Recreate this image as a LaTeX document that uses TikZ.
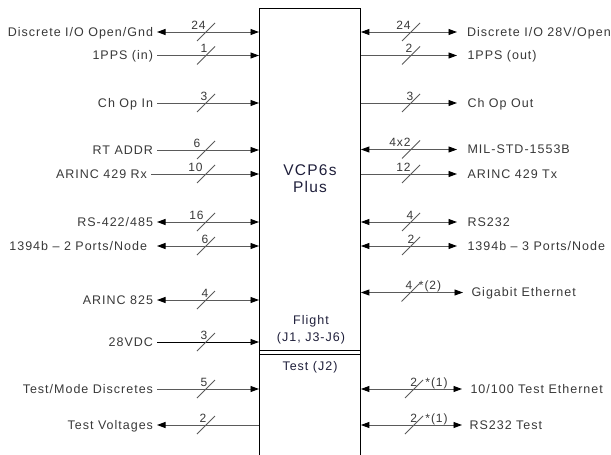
\documentclass[tikz,border=0pt]{standalone}
\usepackage{fontspec}
\setmainfont{Liberation Sans}[LetterSpace=8]
\usetikzlibrary{arrows.meta,calc}
\definecolor{txt}{HTML}{383838}
\definecolor{ln}{HTML}{5A5A5A}
\definecolor{boxtxt}{HTML}{1E1E3A}
\newcommand\InRow[8]{%
  \node[lbl,anchor=east,#8] (L#1) at (#2,#3) {#4};
  \draw[conn,#5] (L#1.east) -- (L#1.east -| box.west);
  \draw[slashln] (206-9,#3+9) -- (206+9,#3-9);
  \node[num] (NL#1) at (#7,#3-7) {#6};
}
\newcommand\OutRow[9]{%
  \node[lbl,anchor=west,inner xsep=#9] (R#1) at (#2,#3) {#4};
  \draw[conn,#5] (R#1.west -| box.east) -- (R#1.west);
  \draw[slashln] (#8-9,#3+9) -- (#8+9,#3-9);
  \node[num] (NR#1) at (#7,#3-7) {#6};
}
\begin{document}
\begin{tikzpicture}[x=1pt,y=-1pt,
  >={Triangle[length=8.5pt,width=6pt,color=black]},
  lbl/.style={text=txt,font=\fontsize{12.5}{14}\selectfont,inner xsep=4pt,inner ysep=0pt,outer sep=0pt,text height=8.6pt,text depth=0pt},
  num/.style={text=txt,font=\fontsize{12}{13}\selectfont,inner sep=0pt,text height=8.3pt,text depth=0pt},
  conn/.style={draw=ln,line width=0.9pt},
  slashln/.style={draw=ln,line width=0.8pt},
  boxln/.style={draw=black,line width=0.9pt},
  boxtext/.style={text=boxtxt,inner sep=0pt,text depth=0pt}]
\useasboundingbox (0,0) rectangle (611,455);
\clip (0,0) rectangle (611,455);
\node[boxln,anchor=north west,minimum width=101pt,minimum height=470pt,inner sep=0pt] (box) at (259,8) {};
% box texts
\node[boxtext,font=\fontsize{15.5}{18}\selectfont,text height=10.7pt] (t1) at (310,170) {VCP6s};
\node[boxtext,font=\fontsize{15.5}{18}\selectfont,text height=10.7pt] (t2) at (310,187.6) {Plus};
\node[boxtext,font=\fontsize{12.5}{14}\selectfont,text height=8.6pt] (t3) at (311,320.5) {Flight};
\node[boxtext,font=\fontsize{12.5}{14}\selectfont,text height=8.6pt] (t4) at (311,337.5) {(J1, J3-J6)};
\node[boxtext,font=\fontsize{12.5}{14}\selectfont,text height=8.6pt] (t5) at (310,366) {Test (J2)};
\coordinate (d1) at (0,350.7);
\coordinate (d2) at (0,354);
\draw[boxln] (box.west |- d1) -- (box.east |- d1);
\draw[boxln] (box.west |- d2) -- (box.east |- d2);
% left rows
\InRow{1}{157}{32}{Discrete I/O Open/Gnd}{<->}{24}{198.5}{}
\InRow{2}{157}{55.5}{1PPS (in)}{->}{1}{204}{}
\InRow{3}{157}{103}{Ch Op In}{->}{3}{204}{}
\InRow{4}{157}{150}{RT ADDR}{->}{6}{197}{}
\InRow{5}{151}{174}{ARINC 429 Rx}{->}{10}{195.5}{}
\InRow{6}{157}{222}{RS-422/485}{<->}{16}{196.5}{}
\InRow{7}{157}{246}{1394b – 2 Ports/Node}{<->}{6}{205}{inner xsep=10pt}
\InRow{8}{157}{300}{ARINC 825}{<->}{4}{205}{}
\InRow{9}{157}{342}{28VDC}{->,draw=black}{3}{204}{}
\InRow{10}{157}{389}{Test/Mode Discretes}{->}{5}{204}{}
\InRow{11}{157}{425}{Test Voltages}{<-}{2}{203}{}
% right rows
\OutRow{1}{457}{32}{Discrete I/O 28V/Open}{<->}{24}{403.5}{411}{10pt}
\OutRow{2}{457}{55.5}{1PPS (out)}{->}{2}{409}{411}{10.5pt}
\OutRow{3}{457}{103}{Ch Op Out}{->}{3}{410}{411}{10.5pt}
\OutRow{4}{457}{149.5}{MIL-STD-1553B}{<->}{4x2}{400}{411}{10.5pt}
\OutRow{5}{457}{174}{ARINC 429 Tx}{->}{12}{403.5}{411}{10.5pt}
\OutRow{6}{457}{222}{RS232}{<->}{4}{410}{411}{10.5pt}
\OutRow{7}{457}{246}{1394b – 3 Ports/Node}{<->}{2}{411}{411}{10.5pt}
\OutRow{8}{463}{292.5}{Gigabit Ethernet}{<->}{4}{409}{410.5}{8.5pt}
\OutRow{9}{462}{389}{10/100 Test Ethernet}{<->}{2}{413.7}{414}{8.5pt}
\OutRow{10}{462}{425}{RS232 Test}{<->}{2}{413.7}{414}{7.5pt}
\node[num] (s8) at (430,285.5) {*(2)};
\node[num] (s9) at (436.5,382) {*(1)};
\node[num] (s10) at (436.5,418) {*(1)};
\end{tikzpicture}
\end{document}
